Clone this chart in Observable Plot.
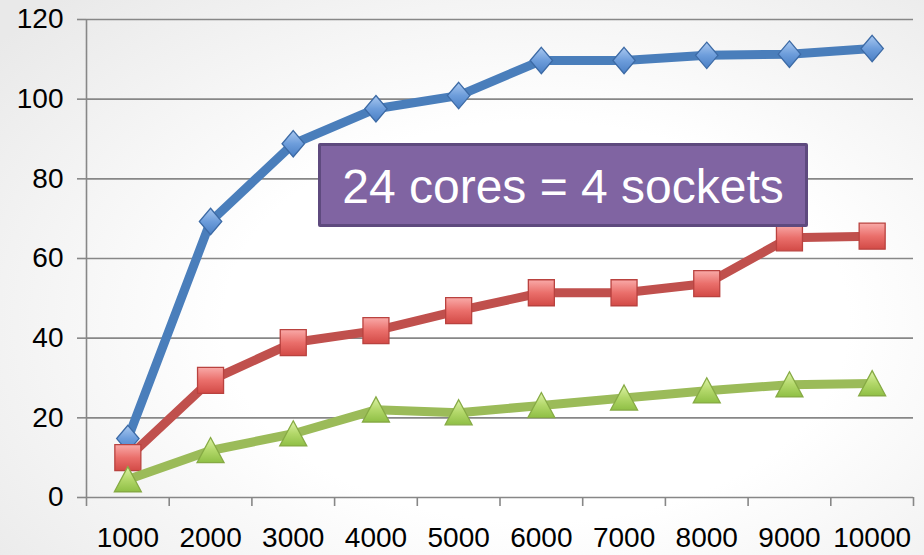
<!DOCTYPE html>
<html>
<head>
<meta charset="utf-8">
<script src="https://cdn.jsdelivr.net/npm/d3@7"></script>
<script src="https://cdn.jsdelivr.net/npm/@observablehq/plot@0.6"></script>
<style>
  html, body { margin: 0; padding: 0; }
  body {
    width: 924px; height: 555px; position: relative; overflow: hidden;
    background: radial-gradient(ellipse 75% 80% at 58% 58%, #ffffff 45%, #f3f3f3 75%, #e9e9e9 100%);
    font-family: "Liberation Sans", Arial, sans-serif;
  }
  #chart svg { display: block; }
  .callout {
    position: absolute; left: 318px; top: 143px; width: 484px; height: 76px;
    background: #8064a2; border: 3px solid #5e4a7e; border-radius: 2px;
    color: #fff; font-size: 48px; display: flex; align-items: center; justify-content: center;
    padding-top: 2px; box-sizing: content-box; white-space: nowrap;
  }
</style>
</head>
<body>
<div id="chart"></div>
<div class="callout" id="callout"></div>
<script>
// Problem sizes on the horizontal axis
const categories = [1000, 2000, 3000, 4000, 5000, 6000, 7000, 8000, 9000, 10000];
// Three measured series
const blueValues  = [14.8, 69.3, 88.8, 97.6, 100.9, 109.7, 109.7, 111.0, 111.3, 112.7];
const redValues   = [10.0, 29.4, 38.9, 41.9, 46.9, 51.4, 51.4, 53.7, 65.2, 65.6];
const greenValues = [4.5, 11.8, 16.0, 22.0, 21.3, 23.1, 25.0, 26.8, 28.3, 28.6];
// Value axis ticks
const yTicks = [0, 20, 40, 60, 80, 100, 120];
const calloutText = "24 cores = 4 sockets";

const step = categories[1] - categories[0];
const boundaries = d3.range(categories.length + 1).map(i => categories[0] - step / 2 + i * step);

const series = [
  {values: blueValues,  line: "#4a7ebb", fill: "url(#gBlue)",  edge: "#3c6aa5", symbol: "diamond"},
  {values: redValues,   line: "#c0504d", fill: "url(#gRed)",   edge: "#b9423f", symbol: "square"},
  {values: greenValues, line: "#9bbb59", fill: "url(#gGreen)", edge: "#86aa44", symbol: "triangle"}
];

// Marker shapes centred on their bounding box; r sets the half-width
const shapes = {
  diamond: {draw(ctx, size) { const s = Math.sqrt(size / Math.PI), h = s * 1.18;
    ctx.moveTo(0, -h); ctx.lineTo(s, 0); ctx.lineTo(0, h); ctx.lineTo(-s, 0); ctx.closePath(); }},
  square: {draw(ctx, size) { const s = Math.sqrt(size / Math.PI);
    ctx.rect(-s, -s, 2 * s, 2 * s); }},
  triangle: {draw(ctx, size) { const s = Math.sqrt(size / Math.PI);
    ctx.moveTo(0, -0.96 * s); ctx.lineTo(s, 0.9 * s); ctx.lineTo(-s, 0.9 * s); ctx.closePath(); }}
};
const radius = {diamond: 11.2, square: 13, triangle: 13.5};

const marks = [
  Plot.gridY({ticks: yTicks.filter(d => d > 0), stroke: "#878787", strokeOpacity: 1, strokeWidth: 1.6}),
  Plot.ruleY([0], {stroke: "#878787", strokeWidth: 1.6}),
  Plot.ruleX([boundaries[0]], {stroke: "#878787", strokeWidth: 1.6}),
  Plot.axisY({ticks: yTicks, tickSize: 9, tickPadding: 14, fontSize: 28, stroke: "#878787", strokeWidth: 1.6, color: "#000", label: null}),
  Plot.axisX({ticks: boundaries, tickSize: 9, tickFormat: () => "", stroke: "#878787", strokeWidth: 1.6, label: null}),
  Plot.axisX({ticks: categories, tickSize: 0, tickPadding: 30, fontSize: 28, tickFormat: d => String(d), color: "#000", label: null})
];

for (const s of series) {
  const rows = categories.map((c, i) => ({c, v: s.values[i]}));
  marks.push(Plot.line(rows, {x: "c", y: "v", stroke: s.line, strokeWidth: 9, strokeLinejoin: "round"}));
  marks.push(Plot.dot(rows, {x: "c", y: "v", symbol: shapes[s.symbol], r: radius[s.symbol],
    fill: s.fill, stroke: s.edge, strokeWidth: 1.3, ariaLabel: "series-marker"}));
}

const chart = Plot.plot({
  width: 924,
  height: 555,
  marginLeft: 86,
  marginRight: 11,
  marginTop: 19,
  marginBottom: 58,
  style: {background: "transparent", fontFamily: "Liberation Sans, Arial, sans-serif", overflow: "visible"},
  x: {type: "linear", domain: [boundaries[0], boundaries[boundaries.length - 1]], axis: null},
  y: {domain: [0, 120], axis: null},
  marks
});

// Gradient fills and soft shadow for the markers
const svg = d3.select(chart);
const defs = svg.insert("defs", ":first-child");
const grads = [
  ["gBlue",  "#a9c8f0", "#6d9ddb", "#4a7fc4"],
  ["gRed",   "#f9aaa8", "#ea6f6b", "#d24a46"],
  ["gGreen", "#def3a8", "#b3d86a", "#8fbf45"]
];
for (const [id, a, b, c] of grads) {
  const g = defs.append("linearGradient").attr("id", id).attr("x1", 0).attr("y1", 0).attr("x2", 0).attr("y2", 1);
  g.append("stop").attr("offset", "0%").attr("stop-color", a);
  g.append("stop").attr("offset", "50%").attr("stop-color", b);
  g.append("stop").attr("offset", "100%").attr("stop-color", c);
}
const shadow = defs.append("filter").attr("id", "softShadow")
  .attr("x", "-20%").attr("y", "-20%").attr("width", "140%").attr("height", "150%");
shadow.append("feDropShadow").attr("dx", 0).attr("dy", 2).attr("stdDeviation", 1.2)
  .attr("flood-color", "#000").attr("flood-opacity", 0.28);
svg.selectAll('g[aria-label="series-marker"]').attr("filter", "url(#softShadow)");

document.getElementById("chart").appendChild(chart);
document.getElementById("callout").textContent = calloutText;
</script>
</body>
</html>
